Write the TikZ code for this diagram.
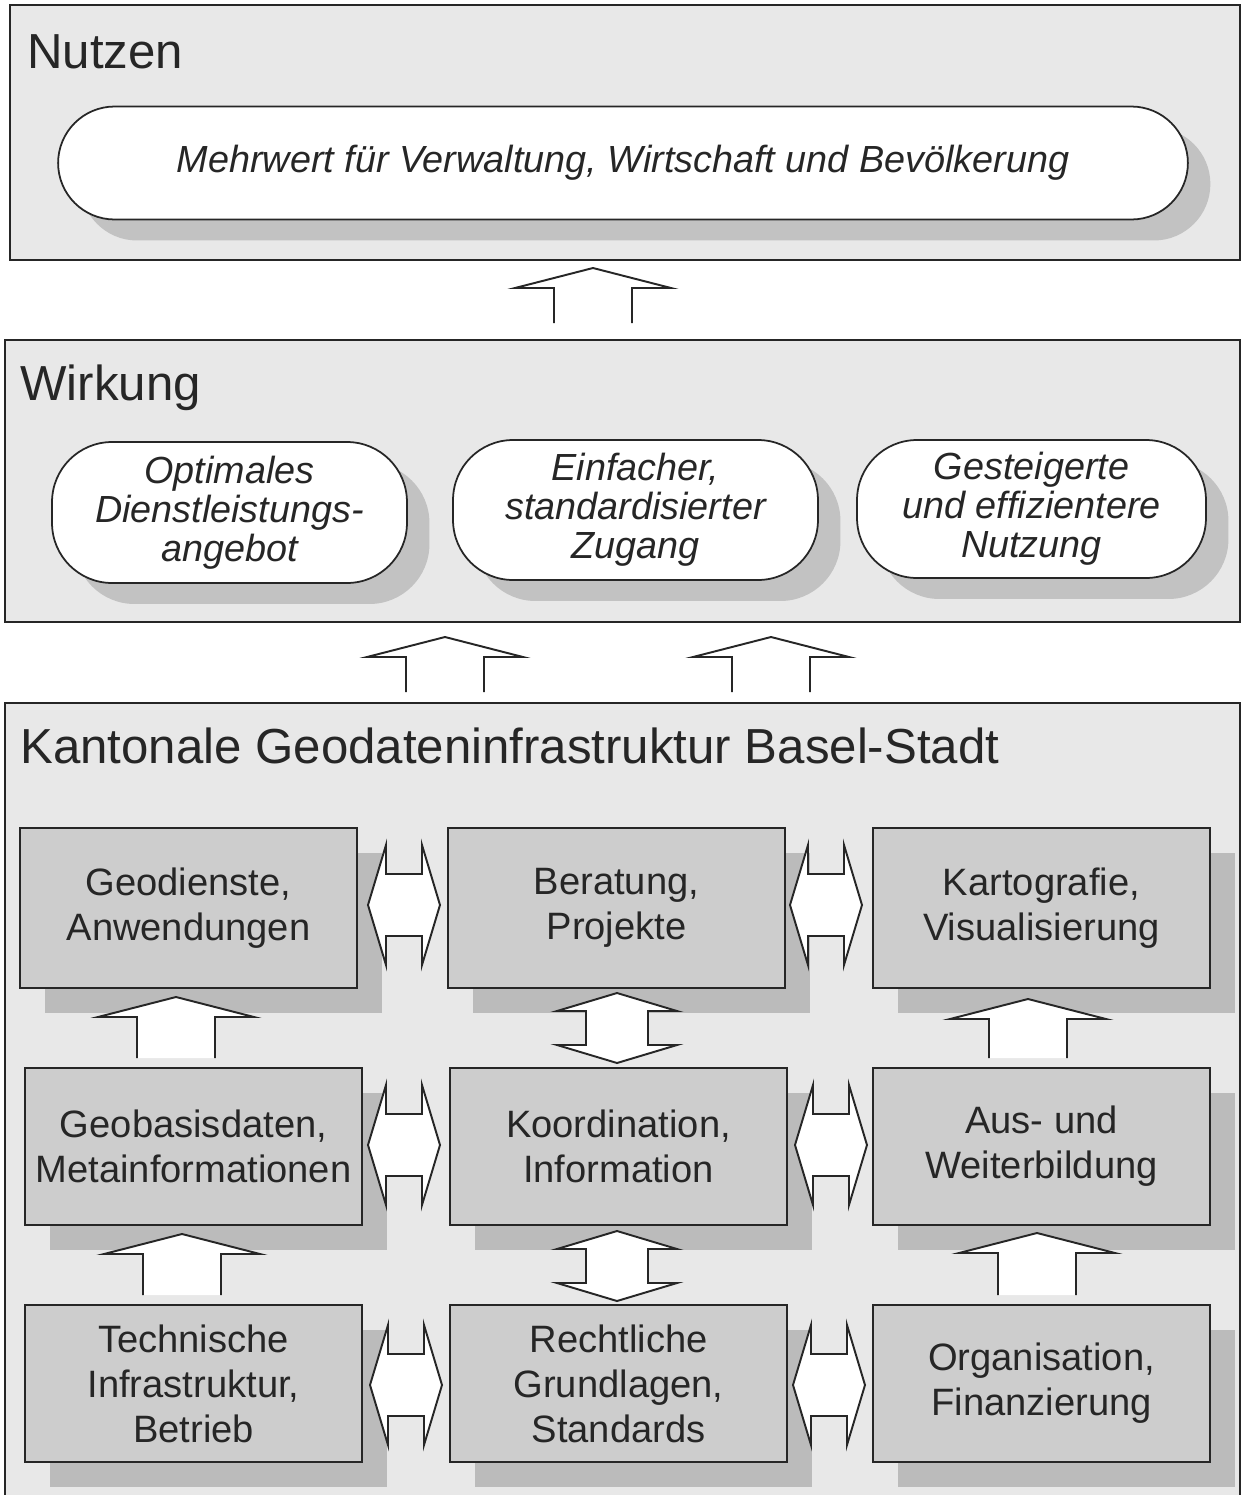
\documentclass[tikz,border=0pt]{standalone}
\usepackage{fontspec}
\setmainfont{Liberation Sans}
\usetikzlibrary{shadows}

\definecolor{panelgray}{HTML}{E8E8E8}
\definecolor{boxgray}{HTML}{CDCDCD}
\definecolor{boxshadow}{HTML}{BBBBBB}
\definecolor{pillshadow}{HTML}{C2C2C2}
\definecolor{ink}{HTML}{262626}

\tikzset{
  panel/.style={draw=ink, line width=1.4pt, fill=panelgray},
  paneltitle/.style={anchor=base west, inner sep=0pt, text=ink, font=\fontsize{28}{32}\selectfont},
  pill/.style={draw=ink, line width=1pt, fill=white, rounded corners=1.2cm, align=center,
    text=ink, font=\fontsize{21.5}{22.3}\selectfont\itshape,
    drop shadow={shadow xshift=0.45cm, shadow yshift=-0.42cm, fill=pillshadow, opacity=1}},
  block/.style={draw=ink, line width=1.4pt, fill=boxgray, minimum width=6.74cm, align=center,
    text=ink, font=\fontsize{21.7}{25.6}\selectfont,
    drop shadow={shadow xshift=0.5cm, shadow yshift=-0.5cm, fill=boxshadow, opacity=1}},
  arr/.style={draw=ink, line width=1.1pt, line join=miter},
}

% open block arrow: centre x, tip y, foot y
\newcommand{\uparr}[3]{%
  \fill[white] (#1-78,#2+20) -- (#1,#2) -- (#1+78,#2+20) -- (#1+39,#2+20)
    -- (#1+39,#3) -- (#1-39,#3) -- (#1-39,#2+20) -- cycle;
  \draw[arr] (#1-39,#3) -- (#1-39,#2+20) -- (#1-78,#2+20) -- (#1,#2)
    -- (#1+78,#2+20) -- (#1+39,#2+20) -- (#1+39,#3);}
% double block arrow, horizontal: left tip x, right tip x, centre y
\newcommand{\hdarr}[3]{%
  \draw[arr, fill=white] (#1,#3) -- (#1+18,#3-60) -- (#1+18,#3-31) -- (#2-18,#3-31)
    -- (#2-18,#3-60) -- (#2,#3) -- (#2-18,#3+60) -- (#2-18,#3+31)
    -- (#1+18,#3+31) -- (#1+18,#3+60) -- cycle;}
% double block arrow, vertical: centre x, top tip y, bottom tip y
\newcommand{\vdarr}[3]{%
  \draw[arr, fill=white] (#1,#2) -- (#1+60,#2+18) -- (#1+31,#2+18) -- (#1+31,#3-18)
    -- (#1+60,#3-18) -- (#1,#3) -- (#1-60,#3-18) -- (#1-31,#3-18)
    -- (#1-31,#2+18) -- (#1-60,#2+18) -- cycle;}

\begin{document}
\begin{tikzpicture}[x=0.02cm, y=-0.02cm]
\useasboundingbox (0,0) rectangle (1243,1495);
\clip (0,0) rectangle (1243,1495);

% panels
\draw[panel] (10,5) rectangle (1240,260);
\draw[panel] (5,340) rectangle (1240,622);
\draw[panel] (5,703) rectangle (1240,1530);

\node[paneltitle] (nutzen) at (27,68) {Nutzen};
\node[paneltitle] (wirkung) at (20,400) {Wirkung};
\node[paneltitle] (kgdi) at (20,763) {Kantonale Geodateninfrastruktur Basel-Stadt};

% Nutzen
\node[pill, rounded corners=1.13cm, minimum width=22.6cm, minimum height=2.26cm] (mehrwert) at (623,163)
  {Mehrwert f\"ur Verwaltung, Wirtschaft und Bev\"olkerung};

% Wirkung
\node[pill, minimum width=7.1cm, minimum height=2.82cm] (angebot) at (229.5,512.5)
  {Optimales\\Dienstleistungs-\\angebot};
\node[pill, minimum width=7.3cm, minimum height=2.8cm] (zugang) at (635.5,510)
  {Einfacher,\\standardisierter\\Zugang};
\node[pill, minimum width=6.98cm, minimum height=2.76cm] (nutzung) at (1031.5,509)
  {Gesteigerte\\und effizientere\\Nutzung};

% Geodateninfrastruktur
\node[block, minimum height=3.2cm] (geodienste) at (188.5,908) {Geodienste,\\Anwendungen};
\node[block, minimum height=3.2cm] (beratung) at (616.5,908) {Beratung,\\Projekte};
\node[block, minimum height=3.2cm] (kartografie) at (1041.5,908) {Kartografie,\\Visualisierung};

\node[block, minimum height=3.14cm] (geobasis) at (193.5,1146.5) {Geobasisdaten,\\Metainformationen};
\node[block, minimum height=3.14cm] (koordination) at (618.5,1146.5) {Koordination,\\Information};
\node[block, minimum height=3.14cm] (bildung) at (1041.5,1146.5) {Aus- und\\Weiterbildung};

\node[block, minimum height=3.14cm] (technik) at (193.5,1383.5) {Technische\\Infrastruktur,\\Betrieb};
\node[block, minimum height=3.14cm] (recht) at (618.5,1383.5) {Rechtliche\\Grundlagen,\\Standards};
\node[block, minimum height=3.14cm] (organisation) at (1041.5,1383.5) {Organisation,\\Finanzierung};

% arrows between the levels
\uparr{593}{268}{323}
\uparr{445}{637}{692}
\uparr{771}{637}{692}

% arrows inside the infrastructure
\uparr{176}{997}{1058}
\uparr{1028}{999}{1058}
\uparr{182}{1234}{1295}
\uparr{1037}{1233}{1295}

\vdarr{617}{993}{1063}
\vdarr{617}{1231}{1301}

\hdarr{368}{440}{905}
\hdarr{790}{862}{905}
\hdarr{368}{440}{1145}
\hdarr{795}{867}{1145}
\hdarr{370}{442}{1385}
\hdarr{793}{865}{1385}
\end{tikzpicture}
\end{document}
